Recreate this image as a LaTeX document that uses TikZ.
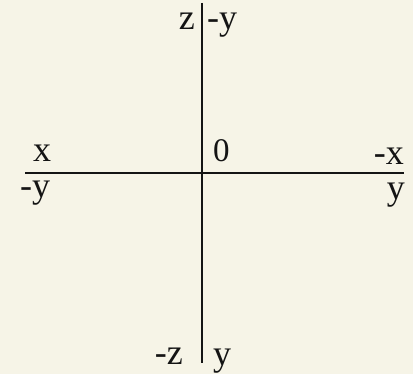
\documentclass[tikz,border=0pt]{standalone}
\usepackage{fontspec}
\setmainfont{Liberation Serif}
\definecolor{bgcream}{RGB}{246,244,231}
\definecolor{inkc}{RGB}{20,20,20}
\begin{document}
\begin{tikzpicture}[x=1pt,y=-1pt,
  lbl/.style={inner sep=0pt,text=inkc,font=\fontsize{36}{40}\selectfont},
  num/.style={inner sep=0pt,text=inkc,font=\fontsize{33}{36}\selectfont},
  axis/.style={draw=inkc,line width=1.8pt}]
\fill[bgcream] (0,0) rectangle (413,374);
\useasboundingbox (0,0) rectangle (413,374);
\coordinate (vt) at (202,3);
\coordinate (vb) at (202,363);
\coordinate (hl) at (25,173);
\coordinate (hr) at (404,173);
\draw[axis] (vt) -- (vb);
\draw[axis] (hl) -- (hr);
\node[lbl, anchor=base east] (zlab) at (195,30) {z};
\node[lbl, anchor=base west] (myt) at (207,30) {-y};
\node[lbl, anchor=base] (xl) at (42,162) {x};
\node[lbl, anchor=base west] (myl) at (20,198) {-y};
\node[lbl, anchor=base east] (mxr) at (404,165) {-x};
\node[lbl, anchor=base east] (yr) at (405,200) {y};
\node[num, anchor=base west] (o) at (213,162) {0};
\node[lbl, anchor=base east] (mzb) at (183,365) {-z};
\node[lbl, anchor=base west] (yb) at (213,366) {y};
\end{tikzpicture}
\end{document}
